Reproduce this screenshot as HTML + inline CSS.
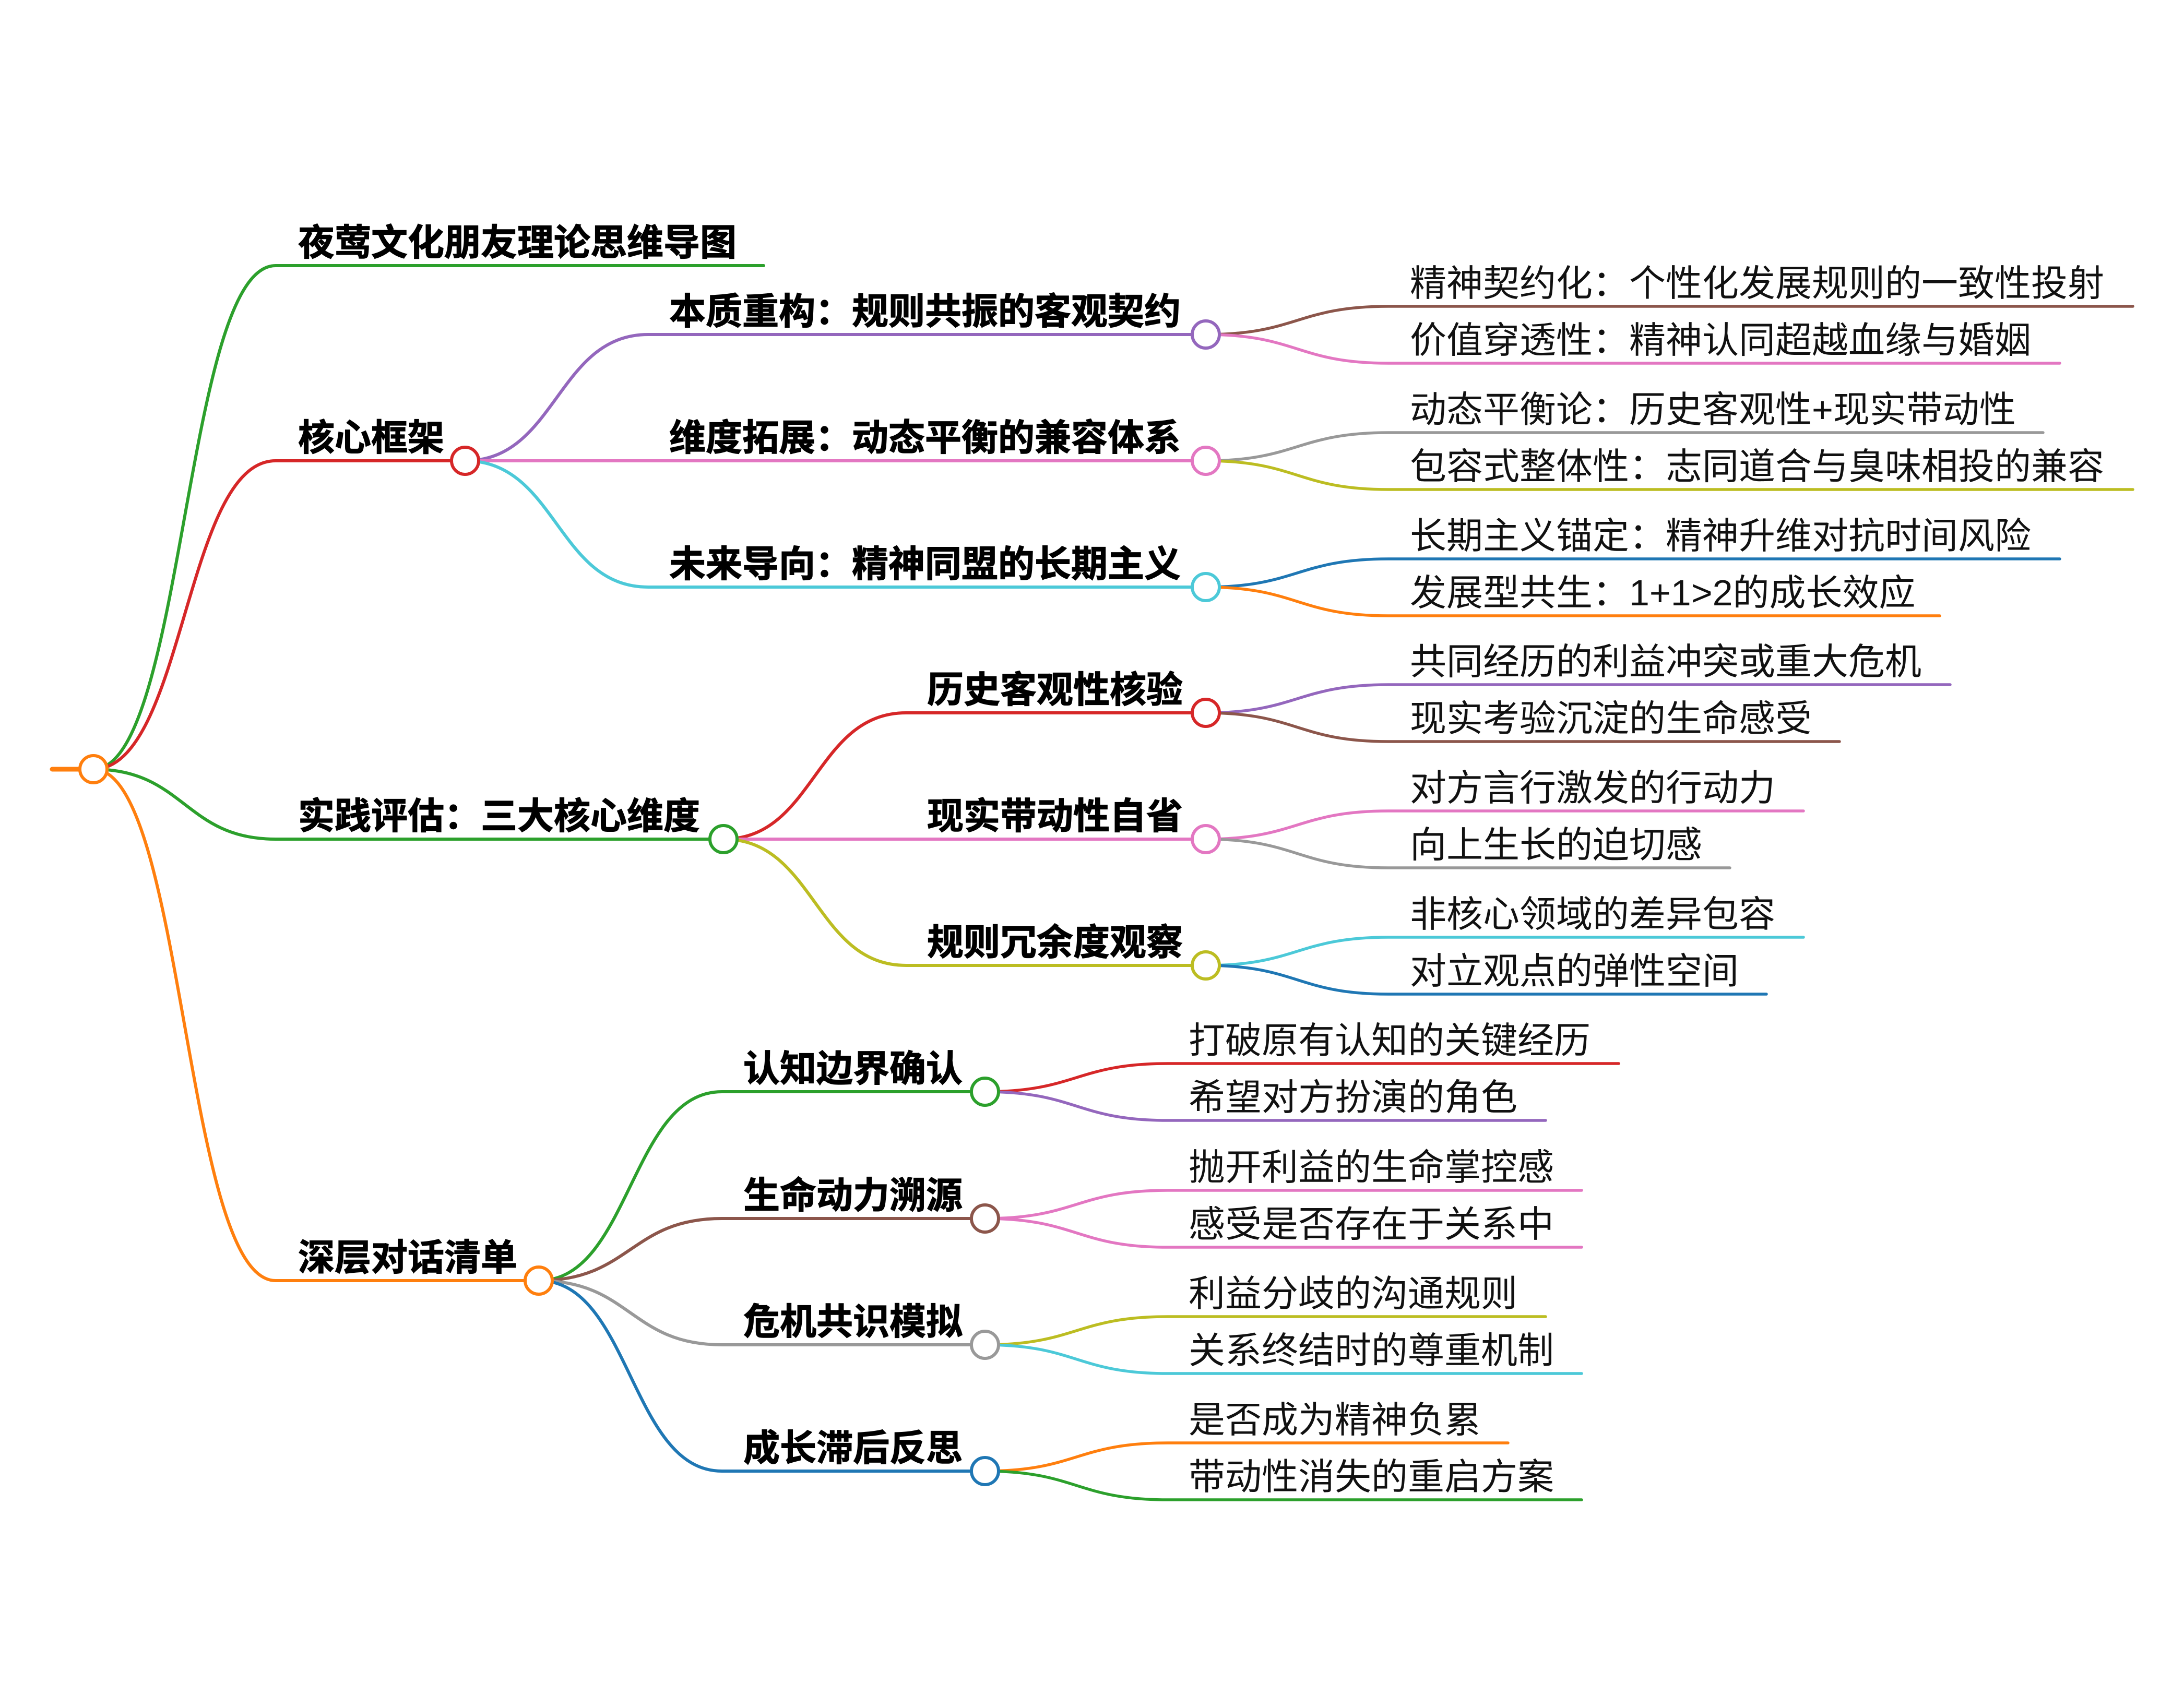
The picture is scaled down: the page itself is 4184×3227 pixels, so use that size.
<!DOCTYPE html>
<html><head><meta charset="utf-8"><style>
html,body{margin:0;padding:0;background:#fff;}
svg{display:block;}
text{font-family:"Liberation Sans","Noto Sans CJK SC",sans-serif;font-size:70px;fill:#111;}
.b{font-weight:700;fill:#000;stroke:#000;stroke-width:1.2px;}
path{fill:none;stroke-linecap:round;}
circle{fill:#fff;stroke-width:6;}
</style></head><body>
<svg width="4184" height="3227" viewBox="0 0 4184 3227" xmlns="http://www.w3.org/2000/svg">
<rect width="4184" height="3227" fill="#fff"/>
<path d="M100 1474 H179" stroke="#ff7f0e" stroke-width="9" stroke-linecap="butt"/>
<g stroke-width="6">
<path d="M179 1474 C353.5 1474,353.5 509,528 509 H1463" stroke="#2ca02c"/>
<path d="M179 1474 C353.5 1474,353.5 883,528 883 H891" stroke="#d62728"/>
<path d="M179 1474 C353.5 1474,353.5 1608,528 1608 H1386" stroke="#2ca02c"/>
<path d="M179 1474 C353.5 1474,353.5 2454,528 2454 H1032" stroke="#ff7f0e"/>
<path d="M891 883 C1066.5 883,1066.5 641,1242 641 H2310" stroke="#9467bd"/>
<path d="M891 883 C1066.5 883,1066.5 883,1242 883 H2310" stroke="#e377c2"/>
<path d="M891 883 C1066.5 883,1066.5 1125,1242 1125 H2310" stroke="#4cc9d8"/>
<path d="M1386 1608 C1561 1608,1561 1366,1736 1366 H2310" stroke="#d62728"/>
<path d="M1386 1608 C1561 1608,1561 1608,1736 1608 H2310" stroke="#e377c2"/>
<path d="M1386 1608 C1561 1608,1561 1850,1736 1850 H2310" stroke="#bcbd22"/>
<path d="M1032 2454 C1207.5 2454,1207.5 2092,1383 2092 H1887" stroke="#2ca02c"/>
<path d="M1032 2454 C1207.5 2454,1207.5 2335,1383 2335 H1887" stroke="#8c564b"/>
<path d="M1032 2454 C1207.5 2454,1207.5 2577,1383 2577 H1887" stroke="#999999"/>
<path d="M1032 2454 C1207.5 2454,1207.5 2819,1383 2819 H1887" stroke="#1f77b4"/>
</g>
<g stroke-width="5.5">
<path d="M2310 641 C2485 641,2485 587,2660 587 H4086" stroke="#8c564b"/>
<path d="M2310 641 C2485 641,2485 696,2660 696 H3946" stroke="#e377c2"/>
<path d="M2310 883 C2485 883,2485 829,2660 829 H3914" stroke="#999999"/>
<path d="M2310 883 C2485 883,2485 938,2660 938 H4086" stroke="#bcbd22"/>
<path d="M2310 1125 C2485 1125,2485 1071,2660 1071 H3946" stroke="#1f77b4"/>
<path d="M2310 1125 C2485 1125,2485 1180,2660 1180 H3716" stroke="#ff7f0e"/>
<path d="M2310 1366 C2485 1366,2485 1312,2660 1312 H3736" stroke="#9467bd"/>
<path d="M2310 1366 C2485 1366,2485 1421,2660 1421 H3524" stroke="#8c564b"/>
<path d="M2310 1608 C2485 1608,2485 1554,2660 1554 H3455" stroke="#e377c2"/>
<path d="M2310 1608 C2485 1608,2485 1663,2660 1663 H3314" stroke="#999999"/>
<path d="M2310 1850 C2485 1850,2485 1796,2660 1796 H3455" stroke="#4cc9d8"/>
<path d="M2310 1850 C2485 1850,2485 1905,2660 1905 H3384" stroke="#1f77b4"/>
<path d="M1887 2092 C2062 2092,2062 2038,2237 2038 H3101" stroke="#d62728"/>
<path d="M1887 2092 C2062 2092,2062 2147,2237 2147 H2961" stroke="#9467bd"/>
<path d="M1887 2335 C2062 2335,2062 2281,2237 2281 H3030" stroke="#e377c2"/>
<path d="M1887 2335 C2062 2335,2062 2390,2237 2390 H3030" stroke="#e377c2"/>
<path d="M1887 2577 C2062 2577,2062 2523,2237 2523 H2961" stroke="#bcbd22"/>
<path d="M1887 2577 C2062 2577,2062 2632,2237 2632 H3030" stroke="#4cc9d8"/>
<path d="M1887 2819 C2062 2819,2062 2765,2237 2765 H2889" stroke="#ff7f0e"/>
<path d="M1887 2819 C2062 2819,2062 2874,2237 2874 H3030" stroke="#2ca02c"/>
</g>
<circle cx="179" cy="1474" r="26" stroke="#ff7f0e"/>
<circle cx="891" cy="883" r="26" stroke="#d62728"/>
<circle cx="1386" cy="1608" r="26" stroke="#2ca02c"/>
<circle cx="1032" cy="2454" r="26" stroke="#ff7f0e"/>
<circle cx="2310" cy="641" r="26" stroke="#9467bd"/>
<circle cx="2310" cy="883" r="26" stroke="#e377c2"/>
<circle cx="2310" cy="1125" r="26" stroke="#4cc9d8"/>
<circle cx="2310" cy="1366" r="26" stroke="#d62728"/>
<circle cx="2310" cy="1608" r="26" stroke="#e377c2"/>
<circle cx="2310" cy="1850" r="26" stroke="#bcbd22"/>
<circle cx="1887" cy="2092" r="26" stroke="#2ca02c"/>
<circle cx="1887" cy="2335" r="26" stroke="#8c564b"/>
<circle cx="1887" cy="2577" r="26" stroke="#999999"/>
<circle cx="1887" cy="2819" r="26" stroke="#1f77b4"/>
<text class="b" x="571" y="489">夜莺文化朋友理论思维导图</text>
<text class="b" x="571" y="863">核心框架</text>
<text class="b" x="571" y="1588">实践评估：三大核心维度</text>
<text class="b" x="571" y="2434">深层对话清单</text>
<text class="b" x="1282" y="621">本质重构：规则共振的客观契约</text>
<text class="b" x="1282" y="863">维度拓展：动态平衡的兼容体系</text>
<text class="b" x="1282" y="1105">未来导向：精神同盟的长期主义</text>
<text class="b" x="1776" y="1346">历史客观性核验</text>
<text class="b" x="1776" y="1588">现实带动性自省</text>
<text class="b" x="1776" y="1830">规则冗余度观察</text>
<text class="b" x="1424" y="2072">认知边界确认</text>
<text class="b" x="1424" y="2315">生命动力溯源</text>
<text class="b" x="1424" y="2557">危机共识模拟</text>
<text class="b" x="1424" y="2799">成长滞后反思</text>
<text x="2701" y="567">精神契约化：个性化发展规则的一致性投射</text>
<text x="2701" y="676">价值穿透性：精神认同超越血缘与婚姻</text>
<text x="2701" y="809">动态平衡论：历史客观性+现实带动性</text>
<text x="2701" y="918">包容式整体性：志同道合与臭味相投的兼容</text>
<text x="2701" y="1051">长期主义锚定：精神升维对抗时间风险</text>
<text x="2701" y="1160">发展型共生：1+1&gt;2的成长效应</text>
<text x="2701" y="1292">共同经历的利益冲突或重大危机</text>
<text x="2701" y="1401">现实考验沉淀的生命感受</text>
<text x="2701" y="1534">对方言行激发的行动力</text>
<text x="2701" y="1643">向上生长的迫切感</text>
<text x="2701" y="1776">非核心领域的差异包容</text>
<text x="2701" y="1885">对立观点的弹性空间</text>
<text x="2277" y="2018">打破原有认知的关键经历</text>
<text x="2277" y="2127">希望对方扮演的角色</text>
<text x="2277" y="2261">抛开利益的生命掌控感</text>
<text x="2277" y="2370">感受是否存在于关系中</text>
<text x="2277" y="2503">利益分歧的沟通规则</text>
<text x="2277" y="2612">关系终结时的尊重机制</text>
<text x="2277" y="2745">是否成为精神负累</text>
<text x="2277" y="2854">带动性消失的重启方案</text>
</svg>
</body></html>
